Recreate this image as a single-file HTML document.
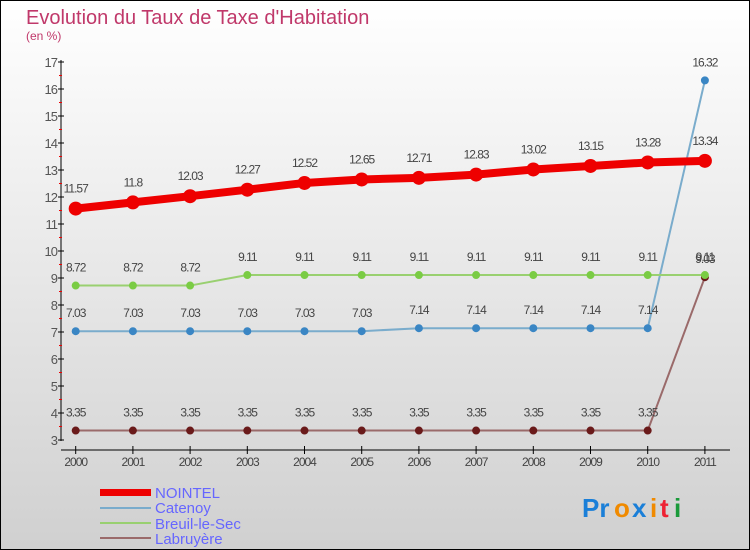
<!DOCTYPE html>
<html><head><meta charset="utf-8"><style>
html,body{margin:0;padding:0}
body{width:750px;height:550px;overflow:hidden;font-family:"Liberation Sans",sans-serif}
#c{position:absolute;left:0;top:0;width:748px;height:548px;border:1px solid #000;background:linear-gradient(#ffffff,#d0d0d0)}
</style></head><body>
<div id="c">
<svg id="s" width="750" height="550" style="position:absolute;left:-1px;top:-1px">
<text x="26" y="24" font-size="20" fill="#c0386a">Evolution du Taux de Taxe d'Habitation</text>
<text x="26" y="40" font-size="12" fill="#c0386a">(en %)</text>
<g id="axes"></g><g id="series"></g>
<g>
<rect x="100" y="489" width="51" height="7" fill="#e00"/>
<text x="155" y="498" font-size="15" fill="#6666ff">NOINTEL</text>
<rect x="100" y="507" width="51" height="2" fill="#7aaccc"/>
<text x="155" y="513" font-size="15" fill="#6666ff">Catenoy</text>
<rect x="100" y="522" width="51" height="2" fill="#99d070"/>
<text x="155" y="529" font-size="15" fill="#6666ff">Breuil-le-Sec</text>
<rect x="100" y="537" width="51" height="2" fill="#9a6a6a"/>
<text x="155" y="544" font-size="15" fill="#6666ff">Labruyère</text>
</g>
<g font-size="26" font-weight="bold">
<text x="582" y="517" fill="#1a7fd8">Pr</text><text x="614" y="517" fill="#f08a00">o</text><text x="632" y="517" fill="#1a7fd8">x</text><text x="650" y="517" fill="#f08a00">i</text><text x="660" y="517" fill="#e23">t</text><text x="674" y="517" fill="#1a9a3a">i</text>
</g>
</svg></div>
<script>
const years=[2000,2001,2002,2003,2004,2005,2006,2007,2008,2009,2010,2011];
const nointel=[11.57,11.8,12.03,12.27,12.52,12.65,12.71,12.83,13.02,13.15,13.28,13.34];
const catenoy=[7.03,7.03,7.03,7.03,7.03,7.03,7.14,7.14,7.14,7.14,7.14,16.32];
const breuil=[8.72,8.72,8.72,9.11,9.11,9.11,9.11,9.11,9.11,9.11,9.11,9.11];
const labruyere=[3.35,3.35,3.35,3.35,3.35,3.35,3.35,3.35,3.35,3.35,3.35,9.03];
const yTicks=[3,4,5,6,7,8,9,10,11,12,13,14,15,16,17];
const NS="http://www.w3.org/2000/svg";
const X=i=>75.7+i*57.2, Y=v=>440-(v-3)*27;
function mk(t,a,p){const e=document.createElementNS(NS,t);for(const k in a)e.setAttribute(k,a[k]);p.appendChild(e);return e;}
const ax=document.getElementById('axes'), sg=document.getElementById('series');
const ya=mk('line',{x1:61,y1:60,x2:61,y2:441,stroke:'#000'},ax);


const xa=mk('line',{x1:61,y1:450,x2:730,y2:450,stroke:'#000'},ax);


yTicks.forEach(v=>{
 mk('line',{x1:58,y1:Y(v),x2:64,y2:Y(v),stroke:'#000'},ax);
 if(v<17)mk('line',{x1:59,y1:Y(v+0.5),x2:62,y2:Y(v+0.5),stroke:'#e00'},ax);
 const t=mk('text',{x:57,y:Y(v)+5,'font-size':13,fill:'#555','text-anchor':'end','letter-spacing':'-1'},ax);t.textContent=v;
 
 
});
years.forEach((y,i)=>{
 mk('line',{x1:X(i),y1:446,x2:X(i),y2:454,stroke:'#000'},ax);
 const t=mk('text',{x:X(i),y:466,'font-size':12,fill:'#444','text-anchor':'middle','letter-spacing':'-1'},ax);t.textContent=y;
 
 
});
function series(d,name,line,w,dot,r,lab){
 const g=mk('g',{},sg);
 
 
 mk('polyline',{points:d.map((v,i)=>X(i)+','+Y(v)).join(' '),fill:'none',stroke:line,'stroke-width':w,'stroke-linejoin':'round'},g);
 d.forEach((v,i)=>{
  const c=mk('circle',{cx:X(i),cy:Y(v),r:r,fill:dot},g);
  
  
  const t=mk('text',{x:X(i),y:Y(v)-lab,'font-size':12,fill:'#444','text-anchor':'middle','letter-spacing':'-1'},g);t.textContent=v;
 });
}
series(labruyere,'labruyere','#9a6a6a',2,'#6a1a1a',4,14);
series(catenoy,'catenoy','#7aaccc',2,'#3a86c4',4,14);
series(breuil,'breuil','#99d070',2,'#7acc44',4,14);
series(nointel,'nointel','#e00',8,'#e00',7,16);
</script></body></html>
